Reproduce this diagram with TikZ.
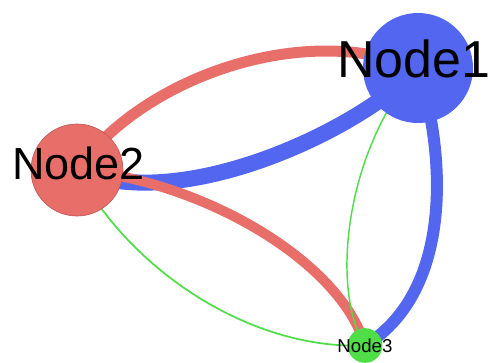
\documentclass[tikz,border=0pt]{standalone}
\usepackage{fontspec}
\setmainfont{Liberation Sans}
\usetikzlibrary{backgrounds}
\definecolor{nred}{RGB}{232,110,105}
\definecolor{nblue}{RGB}{82,102,240}
\definecolor{ngreen}{RGB}{80,222,72}
\tikzset{every picture/.style={line width=0.75pt}}
\tikzset{
  vert/.style={circle,inner sep=0pt},
  txt/.style={inner sep=0pt,text=black},
  link/.style={line cap=round}
}

\begin{document}
\begin{tikzpicture}[x=0.75pt,y=0.75pt,yscale=-1,xscale=1]
\useasboundingbox (0,0) rectangle (494,362);

%Shape: Circle [Node1]
\node [vert,fill=nblue,minimum size=82.5pt,
  label={[txt,font=\fontsize{39}{39}\selectfont,xshift=-3pt,yshift=6.5pt]center:Node1}] (n1) at (418,68) {};
%Shape: Circle [Node2]
\node [vert,fill=nred,draw={rgb,255:red,190;green,90;blue,88},line width=0.5pt,minimum size=69pt,
  label={[txt,font=\fontsize{33.75}{33.75}\selectfont,xshift=1pt,yshift=5pt]center:Node2}] (n2) at (77,170) {};
%Shape: Circle [Node3]
\node [vert,fill=ngreen,minimum size=26pt,
  label={[txt,font=\fontsize{14}{14}\selectfont]center:Node3}] (n3) at (365,345.5) {};

\begin{pgfonlayer}{background}
%Curve: Node1 - Node2
\draw [link,nblue,line width=12pt] (n1.center) .. controls (360,130) and (180,215) .. (n2.center) ;
%Curve: Node1 - Node3
\draw [link,nblue,line width=9pt] (n1.center) .. controls (445,150) and (455,290) .. (n3.center) ;
%Curve: Node2 - Node1
\draw [link,nred,line width=8.25pt] (n2.center) .. controls (140,80) and (300,20) .. (n1.center) ;
%Curve: Node2 - Node3
\draw [link,nred,line width=7.5pt] (n2.center) .. controls (200,180) and (340,260) .. (n3.center) ;
%Curve: Node2 - Node3 (thin)
\draw [link,ngreen,line width=1.3pt] (n2.center) .. controls (130,270) and (250,350) .. (n3.center) ;
%Curve: Node1 - Node3 (thin)
\draw [link,ngreen,line width=1.1pt] (n1.center) .. controls (345,150) and (330,290) .. (n3.center) ;
\end{pgfonlayer}

\end{tikzpicture}
\end{document}
